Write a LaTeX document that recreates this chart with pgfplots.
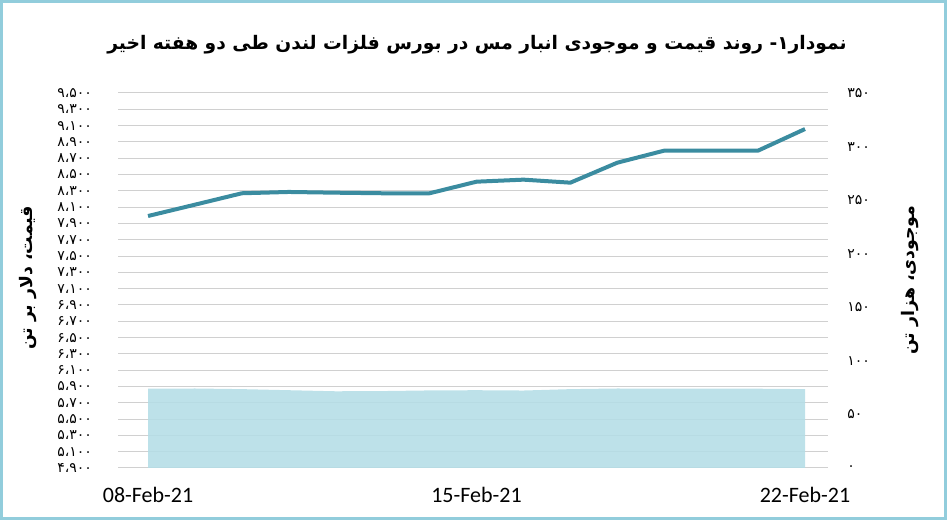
\documentclass[border=0pt]{standalone}
\usepackage{fontspec}
\usepackage{pgfplots}
\pgfplotsset{compat=1.18}
\setmainfont{Carlito}
\newfontfamily\arabicfont[Script=Arabic]{DejaVu Sans}
\TeXXeTstate=1
\definecolor{lineC}{RGB}{59,140,160}
\definecolor{areaC}{RGB}{180,221,230}
\definecolor{gridC}{RGB}{208,208,208}
\definecolor{frameC}{RGB}{146,205,220}
\pgfplotstableread{
x price
0 7991
1 8130
2 8270
3 8286
4 8277
5 8270
6 8270
7 8412
8 8437
9 8400
10 8645
11 8793
12 8793
13 8793
14 9058
}\pricetable
\pgfplotstableread{
x stock
0 74.0
1 74.2
2 73.6
3 72.6
4 71.6
5 71.8
6 72.4
7 72.6
8 72.3
9 73.6
10 74.2
11 74.1
12 74.0
13 74.0
14 73.6
}\stocktable
\begin{document}
\begin{tikzpicture}
\useasboundingbox (0,0) rectangle (710.25pt,390pt);
\draw[frameC, line width=2.25pt] (1.125pt,1.125pt) rectangle (709.125pt,388.875pt);
\node[anchor=base, inner sep=0pt] at (357.75pt,352.5pt) {\arabicfont\bfseries\fontsize{14}{16}\selectfont\beginR نمودار۱- روند قیمت و موجودی انبار مس در بورس فلزات لندن طی دو هفته اخیر\endR};
\begin{axis}[
  at={(88.5pt,39pt)}, anchor=south west, scale only axis,
  width=532.5pt, height=281.25pt,
  xmin=-0.64, xmax=14.49, ymin=4900, ymax=9500,
  axis y line*=left, axis x line*=bottom, axis line style={draw=none},
  major tick length=0pt,
  ytick={4900,5100,...,9500},
  yticklabels={۴،۹۰۰,۵،۱۰۰,۵،۳۰۰,۵،۵۰۰,۵،۷۰۰,۵،۹۰۰,۶،۱۰۰,۶،۳۰۰,۶،۵۰۰,۶،۷۰۰,۶،۹۰۰,۷،۱۰۰,۷،۳۰۰,۷،۵۰۰,۷،۷۰۰,۷،۹۰۰,۸،۱۰۰,۸،۳۰۰,۸،۵۰۰,۸،۷۰۰,۸،۹۰۰,۹،۱۰۰,۹،۳۰۰,۹،۵۰۰},
  xtick={0,7,14}, xticklabels={08-Feb-21,15-Feb-21,22-Feb-21},
  ymajorgrids, grid style={gridC, line width=0.75pt},
  xticklabel style={font=\fontsize{16.5}{17}\selectfont, yshift=-11pt},
  yticklabel style={font=\arabicfont\fontsize{10.5}{10.5}\selectfont, xshift=-16pt},
  ylabel={\arabicfont\bfseries\fontsize{13}{14}\selectfont\beginR قیمت، دلار بر تن\endR},
  every axis y label/.style={at={(axis description cs:-0.127,0.507)}, rotate=90, anchor=center},
]
\addplot[lineC, line width=3pt, line join=round] table[x=x, y=price] {\pricetable};
\end{axis}
\begin{axis}[
  at={(88.5pt,39pt)}, anchor=south west, scale only axis,
  width=532.5pt, height=281.25pt,
  xmin=-0.64, xmax=14.49, ymin=0, ymax=350,
  axis y line*=right, axis x line=none, axis line style={draw=none},
  major tick length=0pt,
  ytick={0,50,...,350},
  yticklabels={۰,۵۰,۱۰۰,۱۵۰,۲۰۰,۲۵۰,۳۰۰,۳۵۰},
  yticklabel style={font=\arabicfont\fontsize{10.5}{10.5}\selectfont, xshift=11pt},
  ylabel={\arabicfont\bfseries\fontsize{13}{14}\selectfont\beginR موجودی، هزار تن\endR},
  every axis y label/.style={at={(axis description cs:1.1155,0.501)}, rotate=90, anchor=center},
]
\addplot[fill=areaC, draw=none, fill opacity=0.88] table[x=x, y=stock] {\stocktable} \closedcycle;
\end{axis}
\end{tikzpicture}
\end{document}
